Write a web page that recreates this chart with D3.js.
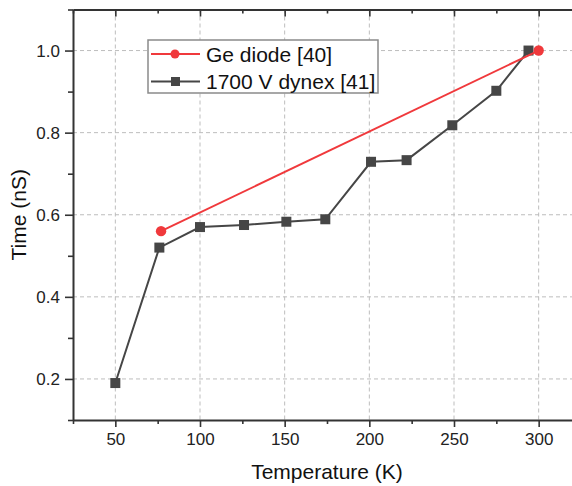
<!DOCTYPE html>
<html><head><meta charset="utf-8">
<script src="https://cdn.jsdelivr.net/npm/d3@7"></script>
<style>html,body{margin:0;padding:0;background:#fff;overflow:hidden}</style>
</head><body>
<svg id="c" width="572" height="486"></svg>
<script>
const geTemp = [77, 300];
const geTime = [0.56, 1.0];
const dynexTemp = [50, 76, 100, 126, 151, 174, 201, 222, 249, 275, 294];
const dynexTime = [0.19, 0.52, 0.57, 0.575, 0.583, 0.589, 0.729, 0.733, 0.818, 0.902, 1.0];
const xTicks = [50, 100, 150, 200, 250, 300];
const yTicks = [0.2, 0.4, 0.6, 0.8, 1.0];
const seriesNames = ["Ge diode [40]", "1700 V dynex [41]"];
const colors = ["#f0393c", "#464646"];

const svg = d3.select("#c");
const L = 73, R = 581, T = 9.5, B = 420;
const x = d3.scaleLinear().domain([25, 325]).range([L, R]);
const y = d3.scaleLinear().domain([0.1, 1.1]).range([B, T]);
const font = "Arial, 'Liberation Sans', sans-serif";
const axisColor = "#333";

// grid
const g = svg.append("g");
g.selectAll(".gx").data(xTicks).join("line")
  .attr("x1", d => x(d)).attr("x2", d => x(d)).attr("y1", T).attr("y2", B)
  .attr("stroke", "#bdbdbd").attr("stroke-width", 1).attr("stroke-dasharray", "4,3");
g.selectAll(".gy").data(yTicks).join("line")
  .attr("y1", d => y(d)).attr("y2", d => y(d)).attr("x1", L).attr("x2", R)
  .attr("stroke", "#bdbdbd").attr("stroke-width", 1).attr("stroke-dasharray", "4,3");

const xMinor = d3.range(25, 326, 25).filter(v => v % 50 !== 0);
const yMinor = d3.range(1, 12, 2).map(v => v / 10);

function styleAxis(sel) {
  sel.select(".domain").attr("stroke", axisColor).attr("stroke-width", 2);
  sel.selectAll(".tick line").attr("stroke", axisColor).attr("stroke-width", 1.6);
  sel.selectAll("text").attr("font-family", font).attr("font-size", 17).attr("fill", "#222");
}

// bottom axis
const bx = svg.append("g").attr("transform", `translate(0,${B})`)
  .call(d3.axisBottom(x).tickValues(xTicks).tickSize(7).tickPadding(6).tickSizeOuter(0).tickFormat(d3.format("d")));
styleAxis(bx);
svg.append("g").attr("transform", `translate(0,${B})`)
  .call(d3.axisBottom(x).tickValues(xMinor).tickSize(4).tickFormat("").tickSizeOuter(0))
  .call(s => { s.select(".domain").remove(); s.selectAll("line").attr("stroke", axisColor).attr("stroke-width", 1.6); });

// top axis (ticks inward)
const tx = svg.append("g").attr("transform", `translate(0,${T})`)
  .call(d3.axisBottom(x).tickValues(xTicks).tickSize(7).tickFormat("").tickSizeOuter(0));
styleAxis(tx);
svg.append("g").attr("transform", `translate(0,${T})`)
  .call(d3.axisBottom(x).tickValues(xMinor).tickSize(4).tickFormat("").tickSizeOuter(0))
  .call(s => { s.select(".domain").remove(); s.selectAll("line").attr("stroke", axisColor).attr("stroke-width", 1.6); });

// left axis
const ly = svg.append("g").attr("transform", `translate(${L},0)`)
  .call(d3.axisLeft(y).tickValues(yTicks).tickSize(8).tickPadding(5).tickSizeOuter(0).tickFormat(d3.format(".1f")));
styleAxis(ly);
svg.append("g").attr("transform", `translate(${L},0)`)
  .call(d3.axisLeft(y).tickValues(yMinor).tickSize(5).tickFormat("").tickSizeOuter(0))
  .call(s => { s.select(".domain").remove(); s.selectAll("line").attr("stroke", axisColor).attr("stroke-width", 1.6); });

// axis titles
svg.append("text").attr("x", 327).attr("y", 479).attr("text-anchor", "middle")
  .attr("font-family", font).attr("font-size", 21).attr("fill", "#111").text("Temperature (K)");
svg.append("text").attr("transform", `translate(26,${(T + B) / 2}) rotate(-90)`).attr("text-anchor", "middle")
  .attr("font-family", font).attr("font-size", 21).attr("fill", "#111").text("Time (nS)");

// series
const line = d3.line().x(d => x(d[0])).y(d => y(d[1]));
const ge = geTemp.map((t, i) => [t, geTime[i]]);
const dy = dynexTemp.map((t, i) => [t, dynexTime[i]]);

svg.append("path").datum(dy).attr("d", line).attr("fill", "none").attr("stroke", colors[1]).attr("stroke-width", 2);
svg.selectAll(".sq").data(dy).join("rect")
  .attr("x", d => x(d[0]) - 5).attr("y", d => y(d[1]) - 5).attr("width", 10).attr("height", 10)
  .attr("fill", colors[1]);

svg.append("path").datum(ge).attr("d", line).attr("fill", "none").attr("stroke", colors[0]).attr("stroke-width", 2);
svg.selectAll(".ci").data(ge).join("circle")
  .attr("cx", d => x(d[0])).attr("cy", d => y(d[1])).attr("r", 5.2).attr("fill", colors[0]);

// legend
const lg = svg.append("g");
lg.append("rect").attr("x", 148).attr("y", 40).attr("width", 230).attr("height", 53)
  .attr("fill", "#fff").attr("stroke", "#8a8a8a").attr("stroke-width", 1.5);
const rows = [54, 81.5];
seriesNames.forEach((name, i) => {
  const ry = rows[i];
  lg.append("line").attr("x1", 151).attr("x2", 200).attr("y1", ry).attr("y2", ry)
    .attr("stroke", colors[i]).attr("stroke-width", 2);
  if (i === 0) lg.append("circle").attr("cx", 175).attr("cy", ry).attr("r", 4.5).attr("fill", colors[i]);
  else lg.append("rect").attr("x", 171).attr("y", ry - 4.5).attr("width", 9).attr("height", 9).attr("fill", colors[i]);
  lg.append("text").attr("x", 206).attr("y", ry + 7.5).attr("font-family", font).attr("font-size", 21)
    .attr("fill", "#111").text(name);
});
</script>
</body></html>
